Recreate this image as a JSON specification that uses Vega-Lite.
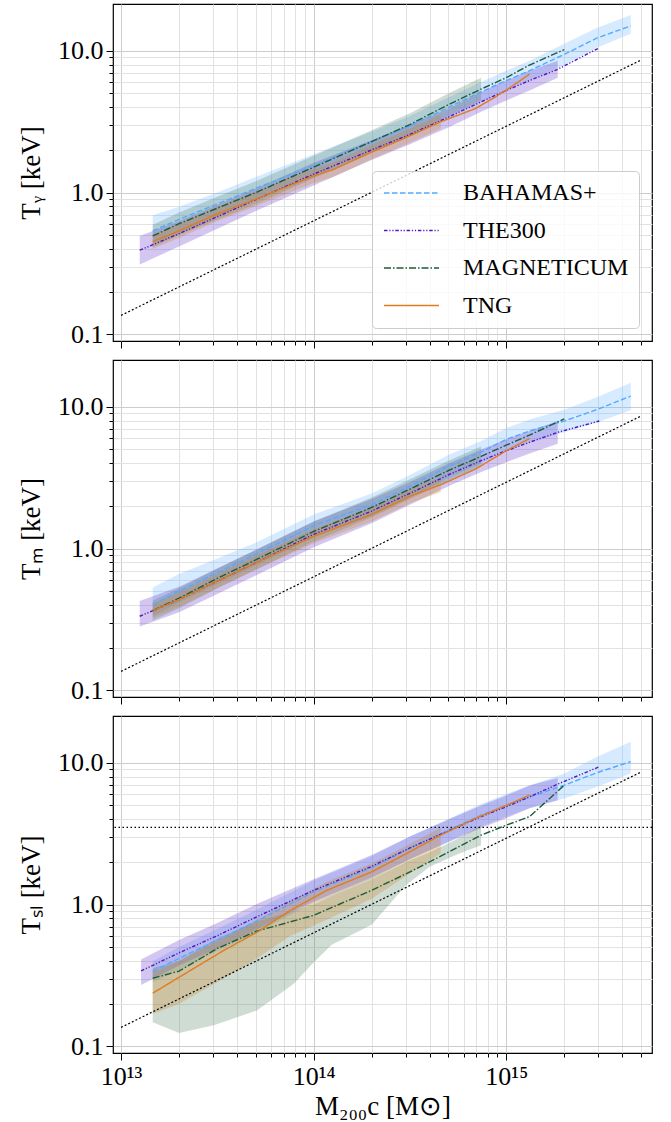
{
"$schema": "https://vega.github.io/schema/vega-lite/v6.json",
"padding": {"left": 16, "top": 3, "right": 5, "bottom": 3},
"config": {
  "font": "Liberation Serif",
  "view": {"stroke": "#000", "strokeWidth": 1.2},
  "axis": {"labelFont": "Liberation Serif", "titleFont": "Liberation Serif", "labelFontSize": 26, "titleFontSize": 27, "labelColor": "#000", "titleColor": "#000", "titleFontWeight": "normal", "tickColor": "#000", "tickWidth": 1, "domain": false, "grid": true, "labelOverlap": false, "labelFlush": false, "labelPadding": 3},
  "legend": {"symbolType": "M-1,0H4.5", "symbolSize": 400, "symbolStrokeWidth": 1.6, "labelFontSize": 24, "labelFont": "Liberation Serif", "labelColor": "#000", "padding": 10, "rowPadding": 13.5, "labelOffset": 57, "fillColor": "rgba(255,255,255,0.8)", "strokeColor": "#cccccc", "cornerRadius": 4, "labelLimit": 400}
},
"spacing": 9,
"resolve": {"scale": {"stroke": "independent", "strokeDash": "independent", "fill": "independent"}, "legend": {"stroke": "independent", "strokeDash": "independent", "fill": "independent"}},
"datasets": {
  "selfsim": [{"mass": 1e13, "temp": 0.136}, {"mass": 5e15, "temp": 8.6}],
  "threshold": [{"temp": 3.5}],
  "lines": [
    {"panel":1,"sim":"Bahamas+","mass":1.46e13,"temp":0.537},{"panel":1,"sim":"Bahamas+","mass":2e13,"temp":0.646},{"panel":1,"sim":"Bahamas+","mass":3.16e13,"temp":0.832},{"panel":1,"sim":"Bahamas+","mass":5e13,"temp":1.07},{"panel":1,"sim":"Bahamas+","mass":1e14,"temp":1.55},{"panel":1,"sim":"Bahamas+","mass":2e14,"temp":2.29},{"panel":1,"sim":"Bahamas+","mass":3.16e14,"temp":2.95},{"panel":1,"sim":"Bahamas+","mass":5e14,"temp":3.98},{"panel":1,"sim":"Bahamas+","mass":7.4e14,"temp":5.13},{"panel":1,"sim":"Bahamas+","mass":1e15,"temp":6.17},{"panel":1,"sim":"Bahamas+","mass":1.32e15,"temp":7.24},{"panel":1,"sim":"Bahamas+","mass":2e15,"temp":9.44},{"panel":1,"sim":"Bahamas+","mass":2.95e15,"temp":12.3},{"panel":1,"sim":"Bahamas+","mass":4.43e15,"temp":15.0},
    {"panel":1,"sim":"The300","mass":1.25e13,"temp":0.392},{"panel":1,"sim":"The300","mass":2e13,"temp":0.513},{"panel":1,"sim":"The300","mass":3.16e13,"temp":0.676},{"panel":1,"sim":"The300","mass":5e13,"temp":0.891},{"panel":1,"sim":"The300","mass":1e14,"temp":1.35},{"panel":1,"sim":"The300","mass":2e14,"temp":2.0},{"panel":1,"sim":"The300","mass":3.16e14,"temp":2.57},{"panel":1,"sim":"The300","mass":5e14,"temp":3.40},{"panel":1,"sim":"The300","mass":7.4e14,"temp":4.37},{"panel":1,"sim":"The300","mass":1e15,"temp":5.25},{"panel":1,"sim":"The300","mass":1.32e15,"temp":6.17},{"panel":1,"sim":"The300","mass":1.85e15,"temp":7.41},{"panel":1,"sim":"The300","mass":3.04e15,"temp":10.5},
    {"panel":1,"sim":"Magneticum","mass":1.46e13,"temp":0.494},{"panel":1,"sim":"Magneticum","mass":2e13,"temp":0.603},{"panel":1,"sim":"Magneticum","mass":3.16e13,"temp":0.776},{"panel":1,"sim":"Magneticum","mass":5e13,"temp":1.0},{"panel":1,"sim":"Magneticum","mass":1e14,"temp":1.51},{"panel":1,"sim":"Magneticum","mass":2e14,"temp":2.29},{"panel":1,"sim":"Magneticum","mass":3.16e14,"temp":3.02},{"panel":1,"sim":"Magneticum","mass":5e14,"temp":4.17},{"panel":1,"sim":"Magneticum","mass":7.4e14,"temp":5.37},{"panel":1,"sim":"Magneticum","mass":1e15,"temp":6.46},{"panel":1,"sim":"Magneticum","mass":1.32e15,"temp":7.94},{"panel":1,"sim":"Magneticum","mass":2e15,"temp":10.2},
    {"panel":1,"sim":"TNG","mass":1.46e13,"temp":0.451},{"panel":1,"sim":"TNG","mass":2e13,"temp":0.537},{"panel":1,"sim":"TNG","mass":3.16e13,"temp":0.708},{"panel":1,"sim":"TNG","mass":5e13,"temp":0.897},{"panel":1,"sim":"TNG","mass":1e14,"temp":1.31},{"panel":1,"sim":"TNG","mass":1.26e14,"temp":1.45},{"panel":1,"sim":"TNG","mass":2e14,"temp":1.93},{"panel":1,"sim":"TNG","mass":3.03e14,"temp":2.45},{"panel":1,"sim":"TNG","mass":4.57e14,"temp":3.16},{"panel":1,"sim":"TNG","mass":6.9e14,"temp":3.91},{"panel":1,"sim":"TNG","mass":8.5e14,"temp":4.60},{"panel":1,"sim":"TNG","mass":1.05e15,"temp":5.52},{"panel":1,"sim":"TNG","mass":1.32e15,"temp":6.85},
    {"panel":2,"sim":"Bahamas+","mass":1.46e13,"temp":0.403},{"panel":2,"sim":"Bahamas+","mass":2e13,"temp":0.501},{"panel":2,"sim":"Bahamas+","mass":3.16e13,"temp":0.676},{"panel":2,"sim":"Bahamas+","mass":5e13,"temp":0.912},{"panel":2,"sim":"Bahamas+","mass":1e14,"temp":1.45},{"panel":2,"sim":"Bahamas+","mass":2e14,"temp":2.04},{"panel":2,"sim":"Bahamas+","mass":3.16e14,"temp":2.75},{"panel":2,"sim":"Bahamas+","mass":5e14,"temp":3.80},{"panel":2,"sim":"Bahamas+","mass":7.4e14,"temp":4.79},{"panel":2,"sim":"Bahamas+","mass":1e15,"temp":5.89},{"panel":2,"sim":"Bahamas+","mass":1.32e15,"temp":6.76},{"panel":2,"sim":"Bahamas+","mass":2e15,"temp":7.94},{"panel":2,"sim":"Bahamas+","mass":2.95e15,"temp":9.55},{"panel":2,"sim":"Bahamas+","mass":4.43e15,"temp":11.9},
    {"panel":2,"sim":"The300","mass":1.25e13,"temp":0.333},{"panel":2,"sim":"The300","mass":2e13,"temp":0.437},{"panel":2,"sim":"The300","mass":3.16e13,"temp":0.589},{"panel":2,"sim":"The300","mass":5e13,"temp":0.794},{"panel":2,"sim":"The300","mass":1e14,"temp":1.26},{"panel":2,"sim":"The300","mass":2e14,"temp":1.84},{"panel":2,"sim":"The300","mass":3.16e14,"temp":2.45},{"panel":2,"sim":"The300","mass":5e14,"temp":3.31},{"panel":2,"sim":"The300","mass":7.4e14,"temp":4.17},{"panel":2,"sim":"The300","mass":1e15,"temp":4.90},{"panel":2,"sim":"The300","mass":1.32e15,"temp":5.62},{"panel":2,"sim":"The300","mass":1.85e15,"temp":6.61},{"panel":2,"sim":"The300","mass":3.04e15,"temp":7.94},
    {"panel":2,"sim":"Magneticum","mass":1.46e13,"temp":0.365},{"panel":2,"sim":"Magneticum","mass":2e13,"temp":0.447},{"panel":2,"sim":"Magneticum","mass":3.16e13,"temp":0.617},{"panel":2,"sim":"Magneticum","mass":5e13,"temp":0.832},{"panel":2,"sim":"Magneticum","mass":1e14,"temp":1.32},{"panel":2,"sim":"Magneticum","mass":2e14,"temp":1.95},{"panel":2,"sim":"Magneticum","mass":3.16e14,"temp":2.63},{"panel":2,"sim":"Magneticum","mass":5e14,"temp":3.55},{"panel":2,"sim":"Magneticum","mass":7.4e14,"temp":4.47},{"panel":2,"sim":"Magneticum","mass":1e15,"temp":5.37},{"panel":2,"sim":"Magneticum","mass":1.32e15,"temp":6.31},{"panel":2,"sim":"Magneticum","mass":2e15,"temp":8.22},
    {"panel":2,"sim":"TNG","mass":1.46e13,"temp":0.365},{"panel":2,"sim":"TNG","mass":2e13,"temp":0.437},{"panel":2,"sim":"TNG","mass":3.16e13,"temp":0.589},{"panel":2,"sim":"TNG","mass":5e13,"temp":0.794},{"panel":2,"sim":"TNG","mass":1e14,"temp":1.22},{"panel":2,"sim":"TNG","mass":2e14,"temp":1.74},{"panel":2,"sim":"TNG","mass":3.16e14,"temp":2.34},{"panel":2,"sim":"TNG","mass":4.57e14,"temp":2.82},{"panel":2,"sim":"TNG","mass":6.9e14,"temp":3.63},{"panel":2,"sim":"TNG","mass":1e15,"temp":4.90},{"panel":2,"sim":"TNG","mass":1.32e15,"temp":5.97},
    {"panel":3,"sim":"Bahamas+","mass":1.46e13,"temp":0.337},{"panel":3,"sim":"Bahamas+","mass":2e13,"temp":0.417},{"panel":3,"sim":"Bahamas+","mass":3.16e13,"temp":0.562},{"panel":3,"sim":"Bahamas+","mass":5e13,"temp":0.759},{"panel":3,"sim":"Bahamas+","mass":1e14,"temp":1.23},{"panel":3,"sim":"Bahamas+","mass":2e14,"temp":1.82},{"panel":3,"sim":"Bahamas+","mass":3.16e14,"temp":2.51},{"panel":3,"sim":"Bahamas+","mass":4.57e14,"temp":3.16},{"panel":3,"sim":"Bahamas+","mass":7.4e14,"temp":4.27},{"panel":3,"sim":"Bahamas+","mass":1e15,"temp":5.01},{"panel":3,"sim":"Bahamas+","mass":1.32e15,"temp":5.75},{"panel":3,"sim":"Bahamas+","mass":2e15,"temp":6.95},{"panel":3,"sim":"Bahamas+","mass":2.95e15,"temp":8.51},{"panel":3,"sim":"Bahamas+","mass":4.43e15,"temp":10.2},
    {"panel":3,"sim":"The300","mass":1.27e13,"temp":0.34},{"panel":3,"sim":"The300","mass":2e13,"temp":0.457},{"panel":3,"sim":"The300","mass":3.16e13,"temp":0.603},{"panel":3,"sim":"The300","mass":5e13,"temp":0.813},{"panel":3,"sim":"The300","mass":1e14,"temp":1.26},{"panel":3,"sim":"The300","mass":2e14,"temp":1.86},{"panel":3,"sim":"The300","mass":3.16e14,"temp":2.51},{"panel":3,"sim":"The300","mass":5e14,"temp":3.31},{"panel":3,"sim":"The300","mass":7.4e14,"temp":4.17},{"panel":3,"sim":"The300","mass":1e15,"temp":4.90},{"panel":3,"sim":"The300","mass":1.32e15,"temp":5.75},{"panel":3,"sim":"The300","mass":1.85e15,"temp":7.08},{"panel":3,"sim":"The300","mass":3.04e15,"temp":9.38},
    {"panel":3,"sim":"Magneticum","mass":1.46e13,"temp":0.302},{"panel":3,"sim":"Magneticum","mass":2e13,"temp":0.339},{"panel":3,"sim":"Magneticum","mass":3.16e13,"temp":0.49},{"panel":3,"sim":"Magneticum","mass":5e13,"temp":0.646},{"panel":3,"sim":"Magneticum","mass":1e14,"temp":0.84},{"panel":3,"sim":"Magneticum","mass":2e14,"temp":1.26},{"panel":3,"sim":"Magneticum","mass":3.16e14,"temp":1.70},{"panel":3,"sim":"Magneticum","mass":5e14,"temp":2.34},{"panel":3,"sim":"Magneticum","mass":7.4e14,"temp":3.09},{"panel":3,"sim":"Magneticum","mass":1e15,"temp":3.63},{"panel":3,"sim":"Magneticum","mass":1.32e15,"temp":4.17},{"panel":3,"sim":"Magneticum","mass":2e15,"temp":6.95},
    {"panel":3,"sim":"TNG","mass":1.46e13,"temp":0.237},{"panel":3,"sim":"TNG","mass":2e13,"temp":0.307},{"panel":3,"sim":"TNG","mass":3.4e13,"temp":0.473},{"panel":3,"sim":"TNG","mass":5.07e13,"temp":0.638},{"panel":3,"sim":"TNG","mass":7.55e13,"temp":0.908},{"panel":3,"sim":"TNG","mass":1.17e14,"temp":1.26},{"panel":3,"sim":"TNG","mass":2e14,"temp":1.70},{"panel":3,"sim":"TNG","mass":3.03e14,"temp":2.29},{"panel":3,"sim":"TNG","mass":4.57e14,"temp":3.09},{"panel":3,"sim":"TNG","mass":6.9e14,"temp":4.05},{"panel":3,"sim":"TNG","mass":1e15,"temp":5.01},{"panel":3,"sim":"TNG","mass":1.32e15,"temp":5.92}
  ],
  "bands": [
    {"panel":1,"sim":"Bahamas+","mass":1.46e13,"lo":0.427,"hi":0.692},{"panel":1,"sim":"Bahamas+","mass":2e13,"lo":0.513,"hi":0.794},{"panel":1,"sim":"Bahamas+","mass":3.16e13,"lo":0.676,"hi":1.0},{"panel":1,"sim":"Bahamas+","mass":5e13,"lo":0.891,"hi":1.29},{"panel":1,"sim":"Bahamas+","mass":1e14,"lo":1.29,"hi":1.86},{"panel":1,"sim":"Bahamas+","mass":2e14,"lo":1.95,"hi":2.69},{"panel":1,"sim":"Bahamas+","mass":3.16e14,"lo":2.51,"hi":3.47},{"panel":1,"sim":"Bahamas+","mass":5e14,"lo":3.39,"hi":4.68},{"panel":1,"sim":"Bahamas+","mass":7.4e14,"lo":4.37,"hi":6.03},{"panel":1,"sim":"Bahamas+","mass":1e15,"lo":5.25,"hi":7.24},{"panel":1,"sim":"Bahamas+","mass":1.32e15,"lo":6.17,"hi":8.51},{"panel":1,"sim":"Bahamas+","mass":2e15,"lo":7.94,"hi":11.2},{"panel":1,"sim":"Bahamas+","mass":2.95e15,"lo":10.5,"hi":14.5},{"panel":1,"sim":"Bahamas+","mass":4.43e15,"lo":13.2,"hi":17.9},
    {"panel":1,"sim":"The300","mass":1.25e13,"lo":0.311,"hi":0.493},{"panel":1,"sim":"The300","mass":2e13,"lo":0.417,"hi":0.631},{"panel":1,"sim":"The300","mass":3.16e13,"lo":0.556,"hi":0.822},{"panel":1,"sim":"The300","mass":5e13,"lo":0.741,"hi":1.07},{"panel":1,"sim":"The300","mass":1e14,"lo":1.12,"hi":1.62},{"panel":1,"sim":"The300","mass":2e14,"lo":1.70,"hi":2.34},{"panel":1,"sim":"The300","mass":3.16e14,"lo":2.19,"hi":3.02},{"panel":1,"sim":"The300","mass":5e14,"lo":2.88,"hi":3.89},{"panel":1,"sim":"The300","mass":7.4e14,"lo":3.72,"hi":5.13},{"panel":1,"sim":"The300","mass":1e15,"lo":4.47,"hi":6.17},{"panel":1,"sim":"The300","mass":1.32e15,"lo":5.25,"hi":7.24},{"panel":1,"sim":"The300","mass":1.85e15,"lo":6.46,"hi":8.51},
    {"panel":1,"sim":"Magneticum","mass":1.46e13,"lo":0.411,"hi":0.594},{"panel":1,"sim":"Magneticum","mass":2e13,"lo":0.501,"hi":0.724},{"panel":1,"sim":"Magneticum","mass":3.16e13,"lo":0.646,"hi":0.933},{"panel":1,"sim":"Magneticum","mass":5e13,"lo":0.832,"hi":1.20},{"panel":1,"sim":"Magneticum","mass":1e14,"lo":1.26,"hi":1.82},{"panel":1,"sim":"Magneticum","mass":2e14,"lo":1.91,"hi":2.75},{"panel":1,"sim":"Magneticum","mass":3.16e14,"lo":2.51,"hi":3.63},{"panel":1,"sim":"Magneticum","mass":5e14,"lo":3.47,"hi":5.01},{"panel":1,"sim":"Magneticum","mass":7.4e14,"lo":4.47,"hi":6.46},
    {"panel":1,"sim":"TNG","mass":1.46e13,"lo":0.402,"hi":0.506},{"panel":1,"sim":"TNG","mass":2e13,"lo":0.479,"hi":0.603},{"panel":1,"sim":"TNG","mass":3.16e13,"lo":0.631,"hi":0.794},{"panel":1,"sim":"TNG","mass":5e13,"lo":0.80,"hi":1.01},{"panel":1,"sim":"TNG","mass":1e14,"lo":1.17,"hi":1.47},{"panel":1,"sim":"TNG","mass":1.26e14,"lo":1.29,"hi":1.63},{"panel":1,"sim":"TNG","mass":2e14,"lo":1.72,"hi":2.17},{"panel":1,"sim":"TNG","mass":3.03e14,"lo":2.19,"hi":2.75},{"panel":1,"sim":"TNG","mass":4.57e14,"lo":2.82,"hi":3.55},
    {"panel":2,"sim":"Bahamas+","mass":1.46e13,"lo":0.335,"hi":0.531},{"panel":2,"sim":"Bahamas+","mass":2e13,"lo":0.417,"hi":0.661},{"panel":2,"sim":"Bahamas+","mass":3.16e13,"lo":0.562,"hi":0.851},{"panel":2,"sim":"Bahamas+","mass":5e13,"lo":0.759,"hi":1.10},{"panel":2,"sim":"Bahamas+","mass":1e14,"lo":1.20,"hi":1.74},{"panel":2,"sim":"Bahamas+","mass":2e14,"lo":1.70,"hi":2.45},{"panel":2,"sim":"Bahamas+","mass":3.16e14,"lo":2.29,"hi":3.31},{"panel":2,"sim":"Bahamas+","mass":5e14,"lo":3.16,"hi":4.57},{"panel":2,"sim":"Bahamas+","mass":7.4e14,"lo":3.98,"hi":5.75},{"panel":2,"sim":"Bahamas+","mass":1e15,"lo":4.90,"hi":7.08},{"panel":2,"sim":"Bahamas+","mass":1.32e15,"lo":5.62,"hi":8.13},{"panel":2,"sim":"Bahamas+","mass":2e15,"lo":6.61,"hi":9.55},{"panel":2,"sim":"Bahamas+","mass":2.95e15,"lo":7.76,"hi":11.7},{"panel":2,"sim":"Bahamas+","mass":4.43e15,"lo":9.46,"hi":14.8},
    {"panel":2,"sim":"The300","mass":1.25e13,"lo":0.282,"hi":0.427},{"panel":2,"sim":"The300","mass":2e13,"lo":0.355,"hi":0.537},{"panel":2,"sim":"The300","mass":3.16e13,"lo":0.479,"hi":0.724},{"panel":2,"sim":"The300","mass":5e13,"lo":0.646,"hi":0.977},{"panel":2,"sim":"The300","mass":1e14,"lo":1.02,"hi":1.55},{"panel":2,"sim":"The300","mass":2e14,"lo":1.51,"hi":2.24},{"panel":2,"sim":"The300","mass":3.16e14,"lo":2.04,"hi":2.95},{"panel":2,"sim":"The300","mass":5e14,"lo":2.75,"hi":3.98},{"panel":2,"sim":"The300","mass":7.4e14,"lo":3.47,"hi":5.01},{"panel":2,"sim":"The300","mass":1e15,"lo":4.07,"hi":5.89},{"panel":2,"sim":"The300","mass":1.32e15,"lo":4.68,"hi":6.76},{"panel":2,"sim":"The300","mass":1.85e15,"lo":5.50,"hi":7.94},
    {"panel":2,"sim":"Magneticum","mass":1.46e13,"lo":0.311,"hi":0.429},{"panel":2,"sim":"Magneticum","mass":2e13,"lo":0.38,"hi":0.525},{"panel":2,"sim":"Magneticum","mass":3.16e13,"lo":0.525,"hi":0.724},{"panel":2,"sim":"Magneticum","mass":5e13,"lo":0.708,"hi":0.977},{"panel":2,"sim":"Magneticum","mass":1e14,"lo":1.12,"hi":1.55},{"panel":2,"sim":"Magneticum","mass":2e14,"lo":1.66,"hi":2.29},{"panel":2,"sim":"Magneticum","mass":3.16e14,"lo":2.24,"hi":3.09},{"panel":2,"sim":"Magneticum","mass":5e14,"lo":3.02,"hi":4.17},{"panel":2,"sim":"Magneticum","mass":7.4e14,"lo":3.80,"hi":5.25},
    {"panel":2,"sim":"TNG","mass":1.46e13,"lo":0.325,"hi":0.41},{"panel":2,"sim":"TNG","mass":2e13,"lo":0.389,"hi":0.49},{"panel":2,"sim":"TNG","mass":3.16e13,"lo":0.525,"hi":0.661},{"panel":2,"sim":"TNG","mass":5e13,"lo":0.708,"hi":0.891},{"panel":2,"sim":"TNG","mass":1e14,"lo":1.09,"hi":1.37},{"panel":2,"sim":"TNG","mass":2e14,"lo":1.55,"hi":1.95},{"panel":2,"sim":"TNG","mass":3.16e14,"lo":2.09,"hi":2.63},{"panel":2,"sim":"TNG","mass":4.57e14,"lo":2.51,"hi":3.16},
    {"panel":3,"sim":"Bahamas+","mass":1.46e13,"lo":0.282,"hi":0.398},{"panel":3,"sim":"Bahamas+","mass":2e13,"lo":0.347,"hi":0.501},{"panel":3,"sim":"Bahamas+","mass":3.16e13,"lo":0.468,"hi":0.676},{"panel":3,"sim":"Bahamas+","mass":5e13,"lo":0.631,"hi":0.912},{"panel":3,"sim":"Bahamas+","mass":1e14,"lo":1.02,"hi":1.48},{"panel":3,"sim":"Bahamas+","mass":2e14,"lo":1.51,"hi":2.19},{"panel":3,"sim":"Bahamas+","mass":3.16e14,"lo":2.09,"hi":3.02},{"panel":3,"sim":"Bahamas+","mass":4.57e14,"lo":2.63,"hi":3.80},{"panel":3,"sim":"Bahamas+","mass":7.4e14,"lo":3.55,"hi":5.13},{"panel":3,"sim":"Bahamas+","mass":1e15,"lo":4.17,"hi":6.03},{"panel":3,"sim":"Bahamas+","mass":1.32e15,"lo":4.79,"hi":6.92},{"panel":3,"sim":"Bahamas+","mass":2e15,"lo":5.60,"hi":8.41},{"panel":3,"sim":"Bahamas+","mass":2.95e15,"lo":6.76,"hi":11.0},{"panel":3,"sim":"Bahamas+","mass":4.43e15,"lo":8.41,"hi":14.1},
    {"panel":3,"sim":"The300","mass":1.27e13,"lo":0.271,"hi":0.409},{"panel":3,"sim":"The300","mass":2e13,"lo":0.372,"hi":0.562},{"panel":3,"sim":"The300","mass":3.16e13,"lo":0.49,"hi":0.741},{"panel":3,"sim":"The300","mass":5e13,"lo":0.661,"hi":1.0},{"panel":3,"sim":"The300","mass":1e14,"lo":1.05,"hi":1.51},{"panel":3,"sim":"The300","mass":2e14,"lo":1.55,"hi":2.24},{"panel":3,"sim":"The300","mass":3.16e14,"lo":2.09,"hi":3.02},{"panel":3,"sim":"The300","mass":5e14,"lo":2.75,"hi":3.98},{"panel":3,"sim":"The300","mass":7.4e14,"lo":3.47,"hi":5.01},{"panel":3,"sim":"The300","mass":1e15,"lo":4.07,"hi":5.89},{"panel":3,"sim":"The300","mass":1.32e15,"lo":4.79,"hi":6.92},{"panel":3,"sim":"The300","mass":1.85e15,"lo":5.44,"hi":7.83},
    {"panel":3,"sim":"Magneticum","mass":1.46e13,"lo":0.148,"hi":0.355},{"panel":3,"sim":"Magneticum","mass":2e13,"lo":0.124,"hi":0.40},{"panel":3,"sim":"Magneticum","mass":3.03e13,"lo":0.141,"hi":0.56},{"panel":3,"sim":"Magneticum","mass":5.07e13,"lo":0.179,"hi":0.76},{"panel":3,"sim":"Magneticum","mass":7.85e13,"lo":0.275,"hi":0.90},{"panel":3,"sim":"Magneticum","mass":1e14,"lo":0.39,"hi":1.0},{"panel":3,"sim":"Magneticum","mass":1.24e14,"lo":0.52,"hi":1.15},{"panel":3,"sim":"Magneticum","mass":2e14,"lo":0.72,"hi":1.5},{"panel":3,"sim":"Magneticum","mass":3.03e14,"lo":1.38,"hi":2.0},{"panel":3,"sim":"Magneticum","mass":4e14,"lo":1.85,"hi":2.34},{"panel":3,"sim":"Magneticum","mass":5.5e14,"lo":2.25,"hi":2.88},{"panel":3,"sim":"Magneticum","mass":7.4e14,"lo":2.62,"hi":3.63},
    {"panel":3,"sim":"TNG","mass":1.46e13,"lo":0.169,"hi":0.33},{"panel":3,"sim":"TNG","mass":2e13,"lo":0.20,"hi":0.40},{"panel":3,"sim":"TNG","mass":3.4e13,"lo":0.30,"hi":0.58},{"panel":3,"sim":"TNG","mass":5.07e13,"lo":0.417,"hi":0.78},{"panel":3,"sim":"TNG","mass":7.55e13,"lo":0.60,"hi":1.05},{"panel":3,"sim":"TNG","mass":1.17e14,"lo":0.78,"hi":1.45},{"panel":3,"sim":"TNG","mass":2e14,"lo":1.1,"hi":1.95},{"panel":3,"sim":"TNG","mass":3.03e14,"lo":1.6,"hi":2.6},{"panel":3,"sim":"TNG","mass":4.57e14,"lo":2.3,"hi":3.5}
  ]
},
"vconcat": [
  {
    "width": 539, "height": 337,
    "layer": [
      {"data": {"name": "bands"}, "transform": [{"filter": "datum.panel == 1"}],
       "mark": {"type": "area", "fillOpacity": 0.28},
       "encoding": {
         "x": {"field": "mass", "type": "quantitative", "scale": {"type": "log", "domain": [9.08e12, 5.71e15], "nice": false},
               "axis": {"title": null, "labels": false, "values": [1e13,2e13,3e13,4e13,5e13,6e13,7e13,8e13,9e13,1e14,2e14,3e14,4e14,5e14,6e14,7e14,8e14,9e14,1e15,2e15,3e15,4e15,5e15],
                        "tickSize": {"condition": {"test": "datum.value==1e13||datum.value==1e14||datum.value==1e15", "value": 7}, "value": 4},
                        "gridColor": {"condition": {"test": "datum.value==1e13||datum.value==1e14||datum.value==1e15", "value": "#cccccc"}, "value": "#e2e2e2"}}},
         "y": {"field": "lo", "type": "quantitative", "scale": {"type": "log", "domain": [0.0897, 21.4], "nice": false},
               "axis": {"title": "Tᵧ [keV]", "titlePadding": 12, "values": [0.1,0.2,0.3,0.4,0.5,0.6,0.7,0.8,0.9,1,2,3,4,5,6,7,8,9,10],
                        "labelExpr": "datum.value==0.1?'0.1':datum.value==1?'1.0':datum.value==10?'10.0':''",
                        "tickSize": {"condition": {"test": "datum.value==0.1||datum.value==1||datum.value==10", "value": 7}, "value": 4},
                        "gridColor": {"condition": {"test": "datum.value==0.1||datum.value==1||datum.value==10", "value": "#cccccc"}, "value": "#e2e2e2"}}},
         "y2": {"field": "hi"},
         "fill": {"field": "sim", "type": "nominal", "scale": {"domain": ["TNG", "Magneticum", "The300", "Bahamas+"], "range": ["#c9821e", "#548265", "#6233c9", "#6cb6ff"]}, "legend": null}
       }},
      {"data": {"name": "selfsim"}, "mark": {"type": "line", "color": "#000", "strokeWidth": 1.2, "strokeDash": [2, 2]},
       "encoding": {"x": {"field": "mass", "type": "quantitative"}, "y": {"field": "temp", "type": "quantitative"}}},
      {"data": {"name": "lines"}, "transform": [{"filter": "datum.panel == 1"}],
       "mark": {"type": "line", "strokeWidth": 1.4},
       "encoding": {
         "x": {"field": "mass", "type": "quantitative"},
         "y": {"field": "temp", "type": "quantitative"},
         "stroke": {"field": "sim", "type": "nominal", "scale": {"domain": ["Bahamas+", "The300", "Magneticum", "TNG"], "range": ["#55aaff", "#5516c0", "#1d5c3a", "#e07c1e"]}, "legend": {"title": null, "orient": "bottom-right", "offset": 13, "labelExpr": "upper(datum.label)"}},
         "strokeDash": {"field": "sim", "type": "nominal", "scale": {"domain": ["Bahamas+", "The300", "Magneticum", "TNG"], "range": [[5.5, 2.5], [3.5, 1.8, 1.2, 1.8, 1.2, 1.8], [7, 2, 1.5, 2], [1, 0]]}, "legend": {"title": null, "orient": "bottom-right", "offset": 13, "labelExpr": "upper(datum.label)"}}
       }}
    ]
  },
  {
    "width": 539, "height": 337,
    "layer": [
      {"data": {"name": "bands"}, "transform": [{"filter": "datum.panel == 2"}],
       "mark": {"type": "area", "fillOpacity": 0.28},
       "encoding": {
         "x": {"field": "mass", "type": "quantitative", "scale": {"type": "log", "domain": [9.08e12, 5.71e15], "nice": false},
               "axis": {"title": null, "labels": false, "values": [1e13,2e13,3e13,4e13,5e13,6e13,7e13,8e13,9e13,1e14,2e14,3e14,4e14,5e14,6e14,7e14,8e14,9e14,1e15,2e15,3e15,4e15,5e15],
                        "tickSize": {"condition": {"test": "datum.value==1e13||datum.value==1e14||datum.value==1e15", "value": 7}, "value": 4},
                        "gridColor": {"condition": {"test": "datum.value==1e13||datum.value==1e14||datum.value==1e15", "value": "#cccccc"}, "value": "#e2e2e2"}}},
         "y": {"field": "lo", "type": "quantitative", "scale": {"type": "log", "domain": [0.0897, 21.4], "nice": false},
               "axis": {"title": "Tₘ [keV]", "titlePadding": 12, "values": [0.1,0.2,0.3,0.4,0.5,0.6,0.7,0.8,0.9,1,2,3,4,5,6,7,8,9,10],
                        "labelExpr": "datum.value==0.1?'0.1':datum.value==1?'1.0':datum.value==10?'10.0':''",
                        "tickSize": {"condition": {"test": "datum.value==0.1||datum.value==1||datum.value==10", "value": 7}, "value": 4},
                        "gridColor": {"condition": {"test": "datum.value==0.1||datum.value==1||datum.value==10", "value": "#cccccc"}, "value": "#e2e2e2"}}},
         "y2": {"field": "hi"},
         "fill": {"field": "sim", "type": "nominal", "scale": {"domain": ["TNG", "Magneticum", "The300", "Bahamas+"], "range": ["#c9821e", "#548265", "#6233c9", "#6cb6ff"]}, "legend": null}
       }},
      {"data": {"name": "selfsim"}, "mark": {"type": "line", "color": "#000", "strokeWidth": 1.2, "strokeDash": [2, 2]},
       "encoding": {"x": {"field": "mass", "type": "quantitative"}, "y": {"field": "temp", "type": "quantitative"}}},
      {"data": {"name": "lines"}, "transform": [{"filter": "datum.panel == 2"}],
       "mark": {"type": "line", "strokeWidth": 1.4},
       "encoding": {
         "x": {"field": "mass", "type": "quantitative"},
         "y": {"field": "temp", "type": "quantitative"},
         "stroke": {"field": "sim", "type": "nominal", "scale": {"domain": ["Bahamas+", "The300", "Magneticum", "TNG"], "range": ["#55aaff", "#5516c0", "#1d5c3a", "#e07c1e"]}, "legend": null},
         "strokeDash": {"field": "sim", "type": "nominal", "scale": {"domain": ["Bahamas+", "The300", "Magneticum", "TNG"], "range": [[5.5, 2.5], [3.5, 1.8, 1.2, 1.8, 1.2, 1.8], [7, 2, 1.5, 2], [1, 0]]}, "legend": null}
       }}
    ]
  },
  {
    "width": 539, "height": 337,
    "layer": [
      {"data": {"name": "bands"}, "transform": [{"filter": "datum.panel == 3"}],
       "mark": {"type": "area", "fillOpacity": 0.28},
       "encoding": {
         "x": {"field": "mass", "type": "quantitative", "scale": {"type": "log", "domain": [9.08e12, 5.71e15], "nice": false},
               "axis": {"title": "M₂₀₀c [M⊙]", "titlePadding": 4, "values": [1e13,2e13,3e13,4e13,5e13,6e13,7e13,8e13,9e13,1e14,2e14,3e14,4e14,5e14,6e14,7e14,8e14,9e14,1e15,2e15,3e15,4e15,5e15],
                        "labelExpr": "datum.value==1e13?'10¹³':datum.value==1e14?'10¹⁴':datum.value==1e15?'10¹⁵':''",
                        "tickSize": {"condition": {"test": "datum.value==1e13||datum.value==1e14||datum.value==1e15", "value": 7}, "value": 4},
                        "gridColor": {"condition": {"test": "datum.value==1e13||datum.value==1e14||datum.value==1e15", "value": "#cccccc"}, "value": "#e2e2e2"}}},
         "y": {"field": "lo", "type": "quantitative", "scale": {"type": "log", "domain": [0.0897, 21.4], "nice": false},
               "axis": {"title": "Tₛₗ [keV]", "titlePadding": 12, "values": [0.1,0.2,0.3,0.4,0.5,0.6,0.7,0.8,0.9,1,2,3,4,5,6,7,8,9,10],
                        "labelExpr": "datum.value==0.1?'0.1':datum.value==1?'1.0':datum.value==10?'10.0':''",
                        "tickSize": {"condition": {"test": "datum.value==0.1||datum.value==1||datum.value==10", "value": 7}, "value": 4},
                        "gridColor": {"condition": {"test": "datum.value==0.1||datum.value==1||datum.value==10", "value": "#cccccc"}, "value": "#e2e2e2"}}},
         "y2": {"field": "hi"},
         "fill": {"field": "sim", "type": "nominal", "scale": {"domain": ["TNG", "Magneticum", "The300", "Bahamas+"], "range": ["#c9821e", "#548265", "#6233c9", "#6cb6ff"]}, "legend": null}
       }},
      {"data": {"name": "selfsim"}, "mark": {"type": "line", "color": "#000", "strokeWidth": 1.2, "strokeDash": [2, 2]},
       "encoding": {"x": {"field": "mass", "type": "quantitative"}, "y": {"field": "temp", "type": "quantitative"}}},
      {"data": {"name": "threshold"}, "mark": {"type": "rule", "color": "#000", "strokeWidth": 1.2, "strokeDash": [1.5, 2.5]},
       "encoding": {"y": {"field": "temp", "type": "quantitative"}}},
      {"data": {"name": "lines"}, "transform": [{"filter": "datum.panel == 3"}],
       "mark": {"type": "line", "strokeWidth": 1.4},
       "encoding": {
         "x": {"field": "mass", "type": "quantitative"},
         "y": {"field": "temp", "type": "quantitative"},
         "stroke": {"field": "sim", "type": "nominal", "scale": {"domain": ["Bahamas+", "The300", "Magneticum", "TNG"], "range": ["#55aaff", "#5516c0", "#1d5c3a", "#e07c1e"]}, "legend": null},
         "strokeDash": {"field": "sim", "type": "nominal", "scale": {"domain": ["Bahamas+", "The300", "Magneticum", "TNG"], "range": [[5.5, 2.5], [3.5, 1.8, 1.2, 1.8, 1.2, 1.8], [7, 2, 1.5, 2], [1, 0]]}, "legend": null}
       }}
    ]
  }
]
}
